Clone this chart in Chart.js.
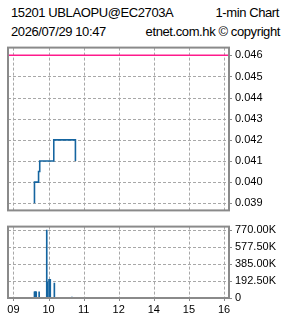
<!DOCTYPE html>
<html><head><meta charset="utf-8">
<script src="https://cdn.jsdelivr.net/npm/chart.js@4"></script>
<style>
html,body{margin:0;padding:0;background:#fff;width:285px;height:318px;overflow:hidden;}
.t{position:absolute;font-family:"Liberation Sans",Arial,sans-serif;font-size:13px;line-height:14px;color:#000;white-space:nowrap;letter-spacing:-0.4px}
#c1{position:absolute;left:0;top:38px}
#c2{position:absolute;left:0;top:217px}
</style></head><body>
<div class="t" style="left:11px;top:6px">15201 UBLAOPU@EC2703A</div>
<div class="t" style="right:6px;top:6px">1-min Chart</div>
<div class="t" style="left:11px;top:25px">2026/07/29 10:47</div>
<div class="t" style="right:5px;top:25px">etnet.com.hk © copyright</div>
<canvas id="c1" width="285" height="182"></canvas>
<canvas id="c2" width="285" height="101"></canvas>
<script>
// ---- data ----
const hourTicks = [9, 10, 11, 12, 13, 14, 15];
const hourLabels = ['09', '10', '11', '12', '14', '15', '16'];
const priceTicks = [0.039, 0.040, 0.041, 0.042, 0.043, 0.044, 0.045, 0.046];
const volumeTicks = [0, 192500, 385000, 577500, 770000];
const prevClose = 0.046;
const priceTimes = ['09:36', '09:36', '09:43', '09:45', '10:09', '10:46'];
const prices = [0.039, 0.040, 0.0405, 0.041, 0.042, 0.041];
const volumeTimes = ['09:36', '09:37', '09:38', '09:39', '09:44', '09:57', '09:58', '10:01', '10:02', '10:03', '10:10', '10:40'];
const volumes = [71000, 71000, 71000, 71000, 71000, 772000, 184000, 212000, 212000, 212000, 169000, 10000];

// ---- helpers ----
function toPos(t) { // trading-time position, lunch break removed
  const [h, m] = t.split(':').map(Number);
  const v = h + m / 60;
  return v >= 13 ? v - 1 : v;
}
const X_MIN = 8.846, X_MAX = 15.142;
const BLUE = '#1565a0', PINK = '#ff1a8c', GRID = '#a8a8a8', FRAME = '#8a8a8a';
const FONT = { family: '"Liberation Sans", Arial, sans-serif', size: 11 };

// grid, tick marks and frame drawn from the chart's own scales
function gridPlugin(xTickMarks) {
  return {
    id: 'gridframe',
    beforeDatasetsDraw(c) {
      const a = c.chartArea, ctx = c.ctx, xs = c.scales.x, ys = c.scales.y;
      ctx.save();
      ctx.lineWidth = 1;
      ctx.strokeStyle = GRID;
      ctx.setLineDash([3, 2]);
      ctx.beginPath();
      xs.ticks.forEach(t => {
        const px = Math.round(xs.getPixelForValue(t.value)) + 0.5;
        ctx.moveTo(px, a.top); ctx.lineTo(px, a.bottom);
      });
      ys.ticks.forEach(t => {
        const py = Math.round(ys.getPixelForValue(t.value)) + 0.5;
        ctx.moveTo(a.left, py); ctx.lineTo(a.right, py);
      });
      ctx.stroke();
      ctx.setLineDash([]);
      ctx.strokeStyle = FRAME;
      ctx.beginPath();
      ys.ticks.forEach(t => {
        const py = Math.round(ys.getPixelForValue(t.value)) + 0.5;
        ctx.moveTo(a.right, py); ctx.lineTo(a.right + 3, py);
      });
      if (xTickMarks) xs.ticks.forEach(t => {
        const px = Math.round(xs.getPixelForValue(t.value)) + 0.5;
        ctx.moveTo(px, a.bottom); ctx.lineTo(px, a.bottom + 3);
      });
      ctx.stroke();
      ctx.restore();
    },
    afterDraw(c) {
      const a = c.chartArea, ctx = c.ctx; ctx.save();
      ctx.strokeStyle = FRAME; ctx.lineWidth = 2;
      ctx.strokeRect(a.left, a.top, a.right - a.left, a.bottom - a.top);
      ctx.restore();
    }
  };
}

function xScale(showLabels) {
  return {
    type: 'linear', min: X_MIN, max: X_MAX, offset: false,
    afterBuildTicks: s => { s.ticks = hourTicks.map(v => ({ value: v })); },
    afterFit: s => { s.height = showLabels ? 20 : 0; },
    border: { display: false },
    grid: { display: false, drawTicks: showLabels, tickLength: 3, offset: false },
    ticks: { display: showLabels, color: '#000', font: FONT, padding: 2, maxRotation: 0, autoSkip: false,
      callback: v => { const i = hourTicks.indexOf(v); return i >= 0 ? hourLabels[i] : ''; } }
  };
}
function yScale(min, max, tickArr, fmt) {
  return {
    type: 'linear', position: 'right', min: min, max: max,
    afterBuildTicks: s => { s.ticks = tickArr.map(v => ({ value: v })); },
    afterFit: s => { s.width = 56; },
    border: { display: false },
    grid: { display: false, drawTicks: true, tickLength: 3 },
    ticks: { color: '#000', font: FONT, padding: 3, autoSkip: false, callback: fmt }
  };
}

new Chart(document.getElementById('c1'), {
  type: 'line',
  data: { datasets: [
    { data: [{ x: X_MIN, y: prevClose }, { x: X_MAX, y: prevClose }], borderColor: PINK, borderWidth: 1.5, pointRadius: 0 },
    { data: priceTimes.map((t, i) => ({ x: toPos(t), y: prices[i] })), borderColor: BLUE, borderWidth: 1.6, pointRadius: 0, stepped: 'before' }
  ]},
  options: {
    responsive: false, animation: false, devicePixelRatio: 1,
    layout: { padding: { left: 8, right: 0, top: 4, bottom: 4 } },
    plugins: { legend: { display: false }, tooltip: { enabled: false } },
    scales: {
      x: xScale(false),
      y: yScale(0.038659, 0.046368, priceTicks, v => Number(v).toFixed(3))
    }
  },
  plugins: [gridPlugin(false)]
});

new Chart(document.getElementById('c2'), {
  type: 'bar',
  data: { datasets: [
    { data: volumeTimes.map((t, i) => ({ x: toPos(t), y: volumes[i] })), backgroundColor: BLUE, borderWidth: 0, barThickness: 1 }
  ]},
  options: {
    responsive: false, animation: false, devicePixelRatio: 1,
    layout: { padding: { left: 8, right: 0, top: 4, bottom: 0 } },
    plugins: { legend: { display: false }, tooltip: { enabled: false } },
    scales: {
      x: xScale(true),
      y: yScale(0, 811000, volumeTicks, v => v === 0 ? '0' : (v / 1000).toFixed(2) + 'K')
    }
  },
  plugins: [gridPlugin(true)]
});
</script>
</body></html>
